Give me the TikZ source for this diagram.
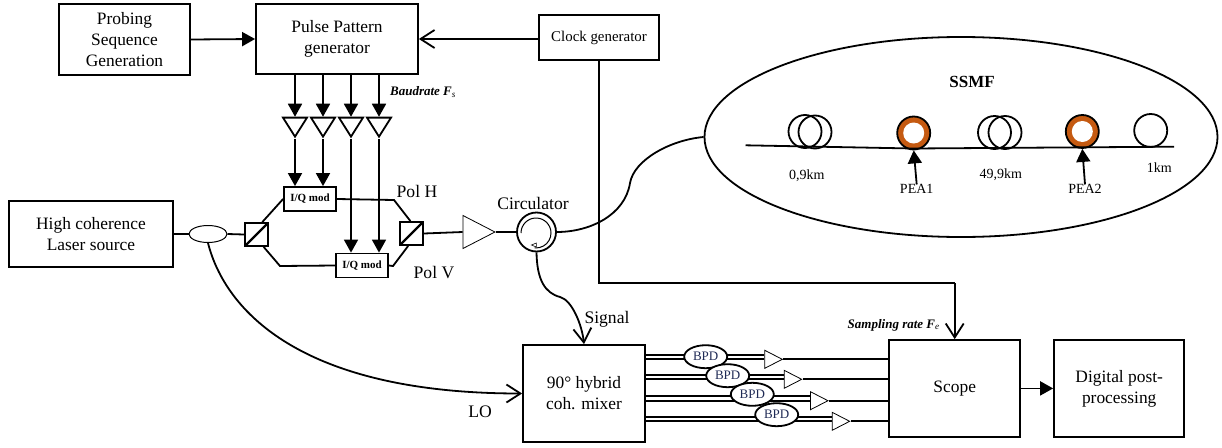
\documentclass[tikz,border=0pt]{standalone}
\usepackage{fontspec}
\setmainfont{Liberation Serif}
\usetikzlibrary{arrows.meta,shapes.geometric}
\definecolor{peaorange}{HTML}{C55A11}
\definecolor{bpdblue}{HTML}{1F2A55}
\tikzset{
  flowarrow/.style={-{Triangle[length=13pt,width=14pt]}, line width=1.8pt},
  openarrow/.style={-{Straight Barb[length=14pt,width=18pt]}, line width=1.8pt},
  fibre/.style={line width=1.8pt},
  blockbox/.style={draw, line width=1.8pt, align=center, inner sep=0pt, font=\fontsize{17.4}{21}\selectfont},
  modbox/.style={draw, line width=1.8pt, inner sep=0pt, minimum width=52pt, minimum height=24pt, font=\fontsize{11}{12}\selectfont\bfseries},
  pbsbox/.style={draw, line width=1.8pt, inner sep=0pt, minimum size=23pt, path picture={\draw[line width=2.2pt] (path picture bounding box.south west) -- (path picture bounding box.north east);}},
  ampsmall/.style={draw, isosceles triangle, isosceles triangle stretches, inner sep=0pt, line width=1.8pt, minimum width=24pt, minimum height=19pt, shape border rotate=270},
  amprx/.style={draw, isosceles triangle, isosceles triangle stretches, inner sep=0pt, line width=0.8pt, minimum width=18pt, minimum height=17.5pt},
  bpdnode/.style={draw, ellipse, line width=1.8pt, fill=white, inner sep=0pt, minimum width=43pt, minimum height=23pt, text=bpdblue, font=\fontsize{13}{14}\selectfont},
  coilnode/.style={draw, circle, line width=1.8pt, inner sep=0pt, minimum size=33pt},
  peanode/.style={draw, circle, line width=1.8pt, inner sep=0pt, minimum size=33pt, fill=peaorange},
  peahole/.style={circle, inner sep=0pt, minimum size=21pt, fill=white},
  lab/.style={font=\fontsize{17.6}{20}\selectfont, inner sep=0pt},
  smalllab/.style={font=\fontsize{14}{15}\selectfont, inner sep=0pt},
  ratelab/.style={font=\fontsize{13}{14}\selectfont\bfseries\itshape, inner sep=0pt}
}
\begin{document}
\begin{tikzpicture}[x=1pt, y=-1pt]
  \useasboundingbox (0,0) rectangle (1222,447);
  % transmitter
  \node[blockbox, minimum width=131pt, minimum height=71pt] (probing) at (124.5,39.5) {Probing\\Sequence\\Generation};
  \node[blockbox, minimum width=162pt, minimum height=70pt] (pulse) at (337,39) {Pulse Pattern\\generator};
  \node[blockbox, minimum width=120pt, minimum height=45pt, font=\fontsize{14.9}{15}\selectfont] (clock) at (599,37.5) {Clock generator};
  \node[blockbox, minimum width=164pt, minimum height=66pt] (laser) at (91,234) {High coherence\\Laser source};
  \node[draw, ellipse, line width=1pt, inner sep=0pt, minimum width=38pt, minimum height=17pt] (coupler) at (208,234) {};
  \node[pbsbox] (split) at (256.5,234.5) {};
  \node[pbsbox] (combine) at (411.5,233.5) {};
  \node[modbox] (modh) at (310,199) {I/Q mod};
  \node[modbox] (modv) at (362,265.5) {I/Q mod};
  \foreach \i/\x in {1/295,2/323,3/351,4/379}
    \node[ampsmall, anchor=apex] (drv\i) at (\x,139) {};
  \node[draw, isosceles triangle, isosceles triangle stretches, inner sep=0pt, line width=0.8pt, minimum width=33pt, minimum height=32pt, anchor=apex] (booster) at (496,232) {};
  \node[draw, circle, line width=1.8pt, inner sep=0pt, minimum size=39pt] (circ) at (536.5,232) {};
  \coordinate (bendh) at (394,200);
  \coordinate (bends) at (280,266);
  \coordinate (bendv) at (393,266);
  \draw[flowarrow] (probing.east) -- (pulse.west);
  \draw[openarrow] (clock.west |- pulse.west) -- (pulse.east);
  \foreach \i/\m in {1/modh,2/modh,3/modv,4/modv} {
    \draw[flowarrow] (pulse.south -| drv\i.lower side) -- (drv\i.lower side);
    \draw[flowarrow] (drv\i.apex) -- (drv\i.apex |- \m.north);
  }
  \draw[fibre] (laser.east) -- (coupler.west);
  \draw[fibre] (coupler.east) -- (split.west);
  \draw[fibre] (split.65) -- (modh.west);
  \draw[fibre] (split.-60) -- (bends) -- (modv.west);
  \draw[fibre] (modh.east) -- (bendh) -- (combine.95);
  \draw[fibre] (modv.east) -- (bendv) -- (combine.-105);
  \draw[fibre] (combine.east) -- (booster.lower side);
  \draw[fibre] (booster.apex) -- (circ.west);
  \draw[line width=1pt] (521,233) arc[start angle=180, end angle=-95, radius=15pt];
  \node[draw, isosceles triangle, inner sep=0pt, line width=0.6pt, minimum size=4pt, shape border rotate=150, fill=white] (circtip) at (535,245) {};
  \node[lab] (polh) at (417,191) {Pol H};
  \node[lab] (polv) at (434,273) {Pol V};
  \node[lab] (circlab) at (533,203) {Circulator};
  \node[ratelab] (baud) at (423,92) {Baudrate \textit{F$_{\mathit{s}}$}};
  % fibre span
  \node[draw, ellipse, line width=1.8pt, inner sep=0pt, minimum width=513pt, minimum height=200pt] (ssmf) at (961,137) {};
  \node[font=\fontsize{17}{20}\selectfont\bfseries, inner sep=0pt] (ssmflab) at (972,81.5) {SSMF};
  \node[coilnode] (c1a) at (805,131.5) {};
  \node[coilnode] (c1b) at (815,132) {};
  \node[peanode] (pea1) at (913.7,133) {};
  \node[peahole] (hole1) at (pea1) {};
  \node[coilnode] (c2a) at (994.5,132.5) {};
  \node[coilnode] (c2b) at (1005,132.5) {};
  \node[peanode] (pea2) at (1082.3,131.5) {};
  \node[peahole] (hole2) at (pea2) {};
  \node[coilnode] (c3) at (1150.7,130.5) {};
  \coordinate (fibstart) at (745.5,145.3);
  \coordinate (fibmid) at (913,148.5);
  \coordinate (fibend) at (1174,146.7);
  \draw[fibre] (fibstart) -- (fibmid) -- (fibend);
  \node[smalllab] (km1) at (806.7,175.7) {0,9km};
  \node[smalllab] (km2) at (1000.7,174.7) {49,9km};
  \node[smalllab] (km3) at (1159.3,167.3) {1km};
  \node[smalllab] (pealab1) at (916.7,189.3) {PEA1};
  \node[smalllab] (pealab2) at (1085,189.3) {PEA2};
  \draw[flowarrow] (pealab1.north) -- (pea1.south);
  \draw[flowarrow] (pealab2.north) -- (pea2.south);
  \draw[fibre] (circ.east) .. controls (590,232) and (625,215) .. (630,183) .. controls (634,160) and (670,140) .. (ssmf.west);
  % receiver
  \node[blockbox, minimum width=122pt, minimum height=97pt] (mixer) at (584,393.5) {90° hybrid\\coh. mixer};
  \node[blockbox, minimum width=130.7pt, minimum height=96.7pt] (scope) at (954.7,388.4) {Scope};
  \node[blockbox, minimum width=130.3pt, minimum height=96.7pt] (digital) at (1119.2,388.4) {Digital post-\\processing};
  \draw[openarrow] (circ.south) .. controls (537,280) and (545,293) .. (560,297) .. controls (572,300) and (582,325) .. (mixer.north);
  \draw[openarrow] (coupler.south) .. controls (225,310) and (300,393.5) .. (mixer.west);
  \node[lab] (siglab) at (607,319) {Signal};
  \node[lab] (lolab) at (480,412) {LO};
  \foreach \i/\xa/\ya/\xb/\yb in {1/783.3/359.3/705.7/356.7,2/802.7/379.3/727.7/375.7,3/829/400.7/752.3/394.3,4/850.7/421.3/776.7/414.7} {
    \node[amprx, anchor=apex] (rx\i) at (\xa,\ya) {};
    \draw[fibre] (mixer.east |- rx\i.lower side) -- (rx\i.lower side);
    \draw[fibre] ([yshift=4.7pt]mixer.east |- rx\i.lower side) -- ([yshift=4.7pt]rx\i.lower side);
    \draw[fibre] (rx\i.apex) -- (rx\i.apex -| scope.west);
    \node[bpdnode] (bpd\i) at (\xb,\yb) {BPD};
  }
  \coordinate (clockbend) at (599,283.3);
  \coordinate (scopebend) at (954.7,283.3);
  \draw[fibre] (clock.south) -- (clockbend) -- (scopebend);
  \draw[openarrow] (scopebend) -- (scope.north);
  \node[ratelab] (samp) at (893.7,325) {Sampling rate \textit{F$_{\mathit{e}}$}};
  \draw[flowarrow] (scope.east) -- (digital.west);
\end{tikzpicture}
\end{document}
